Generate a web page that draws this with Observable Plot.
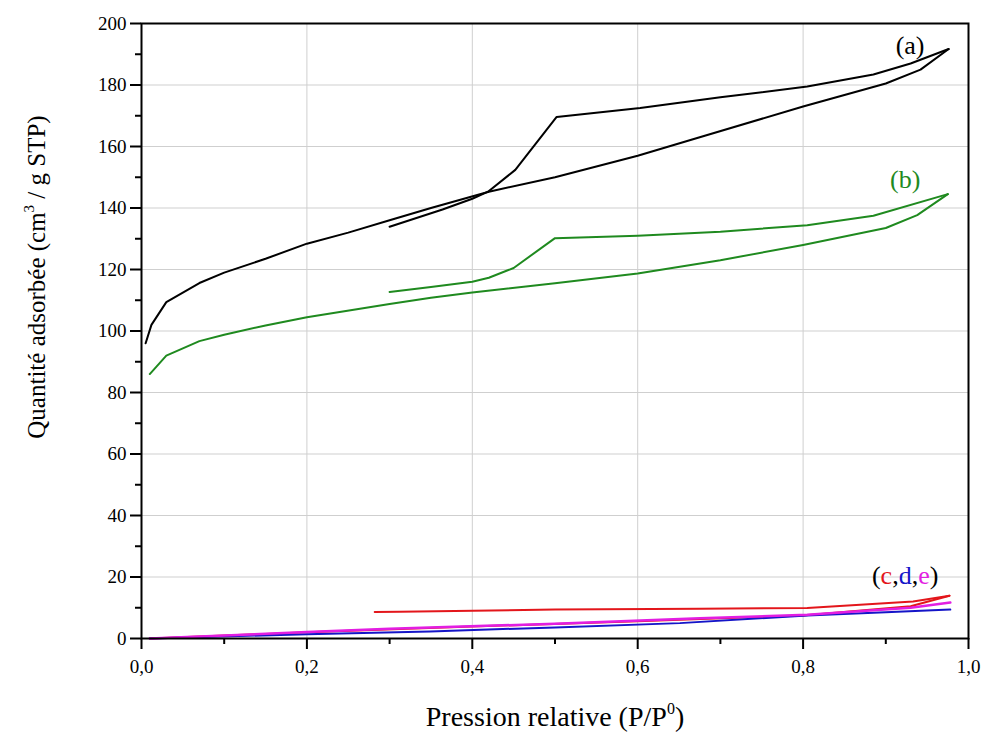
<!DOCTYPE html>
<html><head><meta charset="utf-8">
<script src="https://cdn.jsdelivr.net/npm/d3@7"></script>
<script src="https://cdn.jsdelivr.net/npm/@observablehq/plot@0.6"></script>
<style>
body{margin:0;background:#fff}
#chart{position:absolute;left:0;top:0}
</style>
</head><body><div id="chart"></div>
<script>
// ---- Data ----
const aAdsX = [0.005,0.012,0.03,0.07,0.1,0.15,0.2,0.25,0.3,0.35,0.42,0.5,0.6,0.675,0.8,0.9,0.942,0.976];
const aAdsY = [96,102,109.4,115.6,119,123.5,128.4,132,136,140,145.3,150,157,163,173,180.5,185,191.7];
const aDesX = [0.976,0.93,0.885,0.805,0.7,0.603,0.502,0.452,0.419,0.4,0.364,0.3];
const aDesY = [191.7,187,183.4,179.5,176,172.5,169.6,152.4,145.3,143,139.5,133.9];

const bAdsX = [0.01,0.03,0.07,0.1,0.15,0.2,0.3,0.35,0.4,0.5,0.6,0.7,0.8,0.9,0.938,0.975];
const bAdsY = [86,92,96.7,98.8,101.8,104.5,108.8,110.8,112.5,115.5,118.7,123,128,133.5,137.7,144.5];
const bDesX = [0.975,0.885,0.805,0.7,0.6,0.5,0.45,0.42,0.4,0.35,0.3];
const bDesY = [144.5,137.5,134.4,132.3,131,130.2,120.5,117.3,116,114.3,112.7];

const cAdsX = [0.01,0.2,0.4,0.6,0.8,0.93,0.977];
const cAdsY = [0,2,3.9,5.6,7.5,10.5,13.9];
const cDesX = [0.977,0.933,0.805,0.675,0.5,0.312,0.282];
const cDesY = [13.9,12,9.9,9.7,9.4,8.7,8.6];

const dX = [0.01,0.2,0.349,0.5,0.651,0.805,0.9,0.978];
const dY = [0,1.4,2.3,3.6,5.0,7.5,8.5,9.4];

const eX = [0.01,0.2,0.3,0.5,0.675,0.805,0.93,0.978];
const eY = [0,2.1,3.2,4.8,6.6,7.7,10,11.7];

const xMajor = [0,0.2,0.4,0.6,0.8,1.0];
const xMinor = [0.1,0.3,0.5,0.7,0.9];
const yMajor = [0,20,40,60,80,100,120,140,160,180,200];
const yMinor = [10,30,50,70,90,110,130,150,170,190];

const sampleColors = {a:"#000000", b:"#1f8a1f", c:"#e3161b", d:"#1515c8", e:"#e21ee2"};

// ---- Build table ----
const rows = [];
function addSeries(sample, branch, xs, ys){
  xs.forEach((x,i)=>rows.push({sample, series:sample+"-"+branch, x, y:ys[i]}));
}
addSeries("a","ads",aAdsX,aAdsY);
addSeries("a","des",aDesX,aDesY);
addSeries("b","ads",bAdsX,bAdsY);
addSeries("b","des",bDesX,bDesY);
addSeries("c","ads",cAdsX,cAdsY);
addSeries("c","des",cDesX,cDesY);
addSeries("d","ads",dX,dY);
addSeries("e","ads",eX,eY);

const fmtX = d => d.toFixed(1).replace(".", ",");
const serif = "'Liberation Serif','Times New Roman',serif";

function lineFor(sample, width){
  return Plot.line(rows.filter(r=>r.sample===sample), {x:"x", y:"y", z:"series", stroke: sampleColors[sample], strokeWidth: width, curve:"linear"});
}

const plot = Plot.plot({
  width:986, height:733,
  marginLeft:141, marginRight:18, marginTop:23, marginBottom:95,
  style:{fontFamily:serif, fontSize:"19px", background:"#fff", color:"#000"},
  x:{domain:[0,1]},
  y:{domain:[0,200]},
  marks:[
    Plot.gridX(xMajor, {stroke:"#cfcfcf", strokeOpacity:1, strokeWidth:1}),
    Plot.gridY(yMajor, {stroke:"#cfcfcf", strokeOpacity:1, strokeWidth:1}),
    Plot.axisX(xMinor, {tickSize:6, tickFormat:()=>"", label:null, stroke:"#000", strokeWidth:2}),
    Plot.axisX(xMajor, {tickSize:11, tickPadding:10, tickFormat:fmtX, label:null, stroke:"#000", strokeWidth:2, fontSize:19}),
    Plot.axisY(yMinor, {tickSize:6, tickFormat:()=>"", label:null, stroke:"#000", strokeWidth:2}),
    Plot.axisY(yMajor, {tickSize:11, tickPadding:4, tickFormat:d=>String(d), label:null, stroke:"#000", strokeWidth:2, fontSize:19}),
    lineFor("a", 2),
    lineFor("b", 2),
    lineFor("c", 2),
    lineFor("d", 2),
    lineFor("e", 2.5),
    Plot.frame({stroke:"#000", strokeWidth:2})
  ]
});

document.getElementById("chart").appendChild(plot);

// ---- Titles and annotations (real text) ----
const sx = plot.scale("x"), sy = plot.scale("y");
const svg = d3.select(plot);

const xt = svg.append("text")
  .attr("x", 555).attr("y", 726)
  .attr("text-anchor","middle")
  .attr("font-family", serif).attr("font-size", 28).attr("fill","#000");
xt.append("tspan").text("Pression relative (P/P");
xt.append("tspan").attr("font-size",16).attr("dy",-12).text("0");
xt.append("tspan").attr("dy",12).text(")");

const yt = svg.append("text")
  .attr("transform","translate(45,277) rotate(-90)")
  .attr("text-anchor","middle")
  .attr("font-family", serif).attr("font-size", 25).attr("fill","#000");
yt.append("tspan").text("Quantité adsorbée (cm");
yt.append("tspan").attr("font-size",15).attr("dy",-11).text("3");
yt.append("tspan").attr("dy",11).text(" / g STP)");

const annotations = [
  {x:0.93, y:190, parts:[["(a)","#000"]]},
  {x:0.924, y:146.5, parts:[["(b)", sampleColors.b]]},
  {x:0.924, y:17.6, parts:[["(", "#000"],["c", sampleColors.c],[",", "#000"],["d", sampleColors.d],[",", "#000"],["e", sampleColors.e],[")", "#000"]]}
];
annotations.forEach(a=>{
  const t = svg.append("text")
    .attr("x", sx.apply(a.x)).attr("y", sy.apply(a.y))
    .attr("text-anchor","middle")
    .attr("font-family", serif).attr("font-size", 26);
  a.parts.forEach(([s,c])=>t.append("tspan").attr("fill",c).text(s));
});
</script>
</body></html>
